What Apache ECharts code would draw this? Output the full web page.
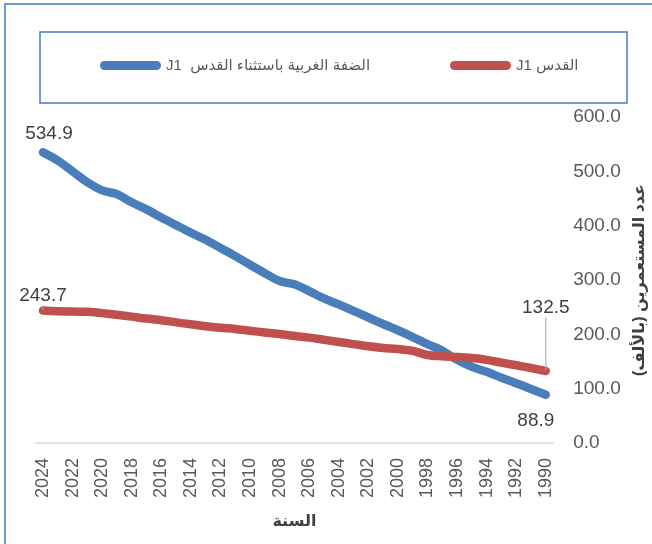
<!DOCTYPE html>
<html>
<head>
<meta charset="utf-8">
<script src="https://cdn.jsdelivr.net/npm/echarts@6/dist/echarts.min.js"></script>
<style>
html,body{margin:0;padding:0;background:#fff;}
#chart{width:652px;height:544px;}
</style>
</head>
<body>
<div id="chart"></div>
<script>
// ---- data ----
var years = ['2024','2023','2022','2021','2020','2019','2018','2017','2016','2015','2014','2013','2012','2011','2010','2009','2008','2007','2006','2005','2004','2003','2002','2001','2000','1999','1998','1997','1996','1995','1994','1993','1992','1991','1990'];
var westBank = [534.9,520,500,480,465,458,443,430,415,401,387,374,359,344,328,312.5,298,292,279.5,266,255,243,231,219,207.5,195,182,170,153,140,131,120,110,99.5,88.9];
var jerusalem = [243.7,242.5,241.8,241.5,239,236,232.6,229,226,222,218.5,215,212,210,206.6,203.5,200.5,197,194,190,186,182,178,175,173,169.6,162,159.6,158.3,156.3,153,148,143,138,132.5];
var nameWestBank = 'J1  الضفة الغربية باستثناء القدس';
var nameJerusalem = 'J1 القدس';
var yTicks = {min: 0, max: 600, step: 100};
var xAxisTitle = 'السنة';
var yAxisTitle = 'عدد المستعمرين (بالألف)\u200F';

// ---- build ----
var FONT = '"Liberation Sans", "DejaVu Sans", sans-serif';
var last = years.length - 1;

var blueData = westBank.map(function(v, i){
  if (i === 0) return {value: v, label: {show: true, position: 'top', offset: [6, -4]}};
  if (i === last) return {value: v, label: {show: true, position: 'bottom', offset: [-10, 11]}};
  return v;
});
var redData = jerusalem.map(function(v, i){
  if (i === 0) return {value: v, label: {show: true, position: 'top', offset: [5, -7]}};
  if (i === last) return {value: v, label: {show: true, position: 'top'}};
  return v;
});

var labelStyle = {
  show: false,
  color: '#404040',
  fontSize: 19,
  fontFamily: FONT,
  formatter: function(p){ return p.value.toFixed(1); }
};

var chart = echarts.init(document.getElementById('chart'), null, {renderer: 'canvas'});
chart.setOption({
  animation: false,
  backgroundColor: '#ffffff',
  graphic: [
    {type: 'rect', shape: {x: 5, y: 4, width: 700, height: 600}, style: {fill: 'none', stroke: '#6f9ad8', lineWidth: 2}, silent: true, z: -10},
    {type: 'rect', shape: {x: 40, y: 32, width: 587, height: 71}, style: {fill: 'none', stroke: '#4a7bc4', lineWidth: 1.5}, silent: true, z: -10}
  ],
  legend: [
    {
      data: [nameWestBank], left: 100, top: 58, padding: 0,
      icon: 'path://M4.5,0 L56.5,0 A4.5,4.5 0 0 1 56.5,9 L4.5,9 A4.5,4.5 0 0 1 4.5,0 Z',
      itemWidth: 61, itemHeight: 9,
      textStyle: {color: '#595959', fontSize: 15, fontFamily: FONT}
    },
    {
      data: [nameJerusalem], left: 450, top: 58, padding: 0,
      icon: 'path://M4.5,0 L56.5,0 A4.5,4.5 0 0 1 56.5,9 L4.5,9 A4.5,4.5 0 0 1 4.5,0 Z',
      itemWidth: 61, itemHeight: 9,
      textStyle: {color: '#595959', fontSize: 15, fontFamily: FONT}
    }
  ],
  grid: {left: 35.6, right: 98.8, top: 117, bottom: 101, containLabel: false, outerBoundsMode: 'none'},
  xAxis: {
    type: 'category',
    data: years,
    boundaryGap: true,
    axisLine: {show: true, lineStyle: {color: '#d5dbef', width: 1.5}},
    axisTick: {show: false},
    axisLabel: {interval: 1, rotate: 90, margin: 15, color: '#595959', fontSize: 18, fontFamily: FONT},
    splitLine: {show: false},
    name: xAxisTitle,
    nameLocation: 'middle',
    nameGap: 71,
    nameTextStyle: {color: '#404040', fontSize: 16, fontWeight: 'bold', fontFamily: FONT}
  },
  yAxis: {
    type: 'value',
    position: 'right',
    min: yTicks.min, max: yTicks.max, interval: yTicks.step,
    axisLine: {show: false},
    axisTick: {show: false},
    splitLine: {show: false},
    axisLabel: {margin: 20, color: '#595959', fontSize: 19, fontFamily: FONT, formatter: function(v){ return v.toFixed(1); }},
    name: yAxisTitle,
    nameLocation: 'middle',
    nameRotate: 90,
    nameGap: 77,
    nameTextStyle: {color: '#404040', fontSize: 16, fontWeight: 'bold', fontFamily: FONT}
  },
  series: [
    {
      name: nameWestBank,
      type: 'line',
      data: blueData,
      smooth: 0.3,
      showSymbol: true,
      symbol: 'circle',
      symbolSize: 1,
      lineStyle: {color: '#4a7ebb', width: 8.5, cap: 'round', join: 'round'},
      itemStyle: {color: '#4a7ebb'},
      label: labelStyle,
      z: 2
    },
    {
      name: nameJerusalem,
      type: 'line',
      data: redData,
      smooth: 0.3,
      showSymbol: true,
      symbol: 'circle',
      symbolSize: 1,
      lineStyle: {color: '#c0504d', width: 8.5, cap: 'round', join: 'round'},
      itemStyle: {color: '#c0504d'},
      label: labelStyle,
      labelLine: {show: true, lineStyle: {color: '#a6a6a6', width: 1}},
      labelLayout: function(p){ if (p.dataIndex === last) return {dy: -48}; return {}; },
      z: 3
    }
  ]
});
</script>
</body>
</html>
